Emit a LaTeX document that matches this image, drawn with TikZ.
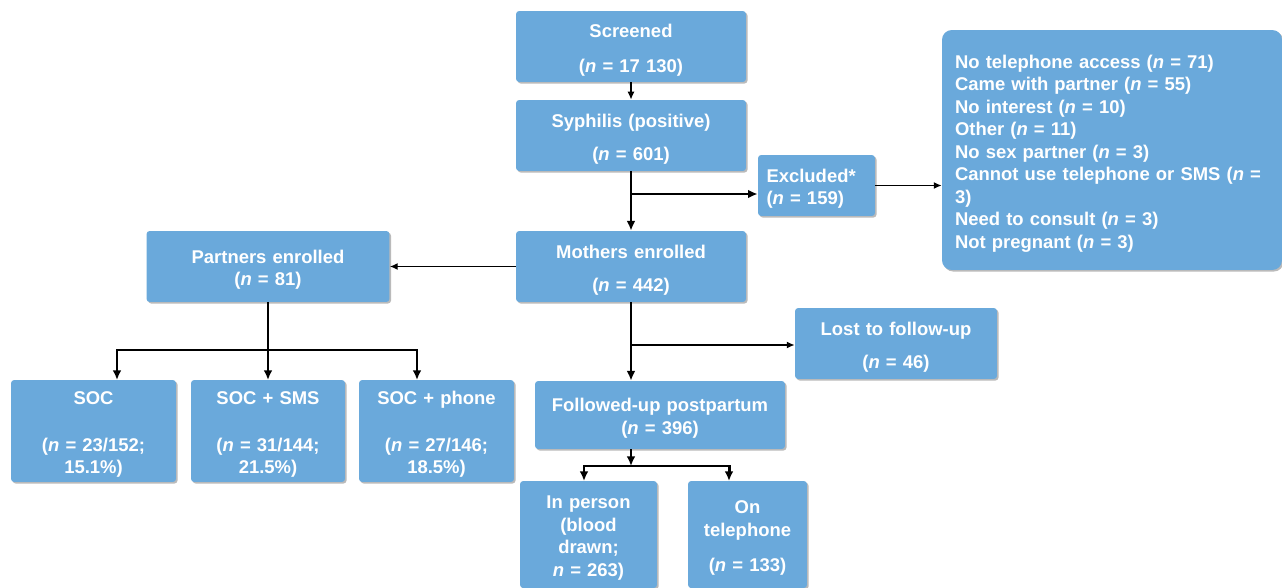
\documentclass[tikz,border=0pt]{standalone}
\usepackage{fontspec}
\setmainfont{Liberation Sans}
\usetikzlibrary{shadows,arrows.meta}
\definecolor{boxblue}{RGB}{106,169,219}
\newcommand{\nn}{\textit{n}}

\begin{document}
\begin{tikzpicture}[x=0.02cm,y=-0.02cm,>={Latex[length=4.5pt,width=4pt]},
	every node/.style={font=\fontsize{10.5}{12.8}\selectfont\bfseries,text=white},
	flowbox/.style={fill=boxblue,rounded corners=1.8pt,align=center,inner sep=2pt,
		text height=11.5pt,
		drop shadow={shadow xshift=0.9pt,shadow yshift=-0.9pt,fill=black!45,opacity=0.6}},
	thinarrow/.style={->,line width=0.8pt},
	thickline/.style={line width=1.7pt},
	thickarrow/.style={-{Latex[length=5.5pt,width=5pt]},line width=1.7pt}]
	
	\useasboundingbox (0,0) rectangle (1282,588);
	
	% mothers column
	\node[flowbox,text width=4.4cm,minimum width=4.6cm,minimum height=1.42cm](screened) at (631,46.5) {Screened\\[7pt](\nn{} = 17 130)};
	\node[flowbox,text width=4.4cm,minimum width=4.6cm,minimum height=1.42cm](syphilis) at (631,135.5) {Syphilis (positive)\\[5.9pt](\nn{} = 601)};
	\node[flowbox,text width=4.4cm,minimum width=4.6cm,minimum height=1.42cm](mothers) at (631,266.5) {Mothers enrolled\\[5.9pt](\nn{} = 442)};
	\node[flowbox,text width=4.8cm,minimum width=5cm,minimum height=1.36cm](followed) at (660,415) {Followed-up postpartum\\(\nn{} = 396)};
	\node[flowbox,text width=2.54cm,minimum width=2.74cm,minimum height=2.14cm](person) at (588.5,534.5) {In person\\(blood\\drawn;\\\nn{} = 263)};
	\node[flowbox,text width=2.18cm,minimum width=2.38cm,minimum height=2.14cm](phonecall) at (747.5,534.5) {On\\telephone\\[7.5pt](\nn{} = 133)};
	
	% exclusions
	\node[flowbox,align=left,text width=2cm,inner xsep=0.17cm,minimum height=1.22cm](excluded) at (816.5,185.5) {Excluded*\\(\nn{} = 159)};
	\node[flowbox,align=left,text width=6.28cm,inner xsep=0.26cm,minimum height=4.8cm,rounded corners=5.5pt](reasons) at (1112,150)
	{No telephone access (\nn{} = 71)\\
		Came with partner (\nn{} = 55)\\
		No interest (\nn{} = 10)\\
		Other (\nn{} = 11)\\
		No sex partner (\nn{} = 3)\\
		Cannot use telephone or SMS (\nn{} =\\
		3)\\
		Need to consult (\nn{} = 3)\\
		Not pregnant (\nn{} = 3)};
	\node[flowbox,text width=3.84cm,minimum width=4.04cm,minimum height=1.42cm](lost) at (896,343.5) {Lost to follow-up\\[5.9pt](\nn{} = 46)};
	
	% partners
	\node[flowbox,text width=4.66cm,minimum width=4.86cm,minimum height=1.42cm](partners) at (268,266.5) {Partners enrolled\\(\nn{} = 81)};
	\node[flowbox,text width=3.1cm,minimum width=3.3cm,minimum height=2.04cm](soc) at (93.5,431) {SOC\\[13.8pt](\nn{} = 23/152;\\15.1\%)};
	\node[flowbox,text width=2.88cm,minimum width=3.08cm,minimum height=2.04cm](socsms) at (268,431) {SOC + SMS\\[13.8pt](\nn{} = 31/144;\\21.5\%)};
	\node[flowbox,text width=2.9cm,minimum width=3.1cm,minimum height=2.04cm](socphone) at (436.5,431) {SOC + phone\\[13.8pt](\nn{} = 27/146;\\18.5\%)};
	
	\coordinate (exsplit) at (631,194);
	\coordinate (lostsplit) at (631,345);
	\coordinate (armsplit) at (268,350);
	\coordinate (socin) at (117,380);
	\coordinate (smsin) at (268,380);
	\coordinate (phonein) at (417,380);
	\coordinate (fusplit) at (631,466);
	\coordinate (personin) at (584,481);
	\coordinate (phonecallin) at (729,481);
	
	\draw[thinarrow] (screened) -- (syphilis);
	\draw[thickarrow] (syphilis) -- (mothers);
	\draw[thickarrow] (exsplit) -- (exsplit -| excluded.west);
	\draw[thinarrow] (excluded.east) -- (excluded.east -| reasons.west);
	\draw[thinarrow] (mothers) -- (partners);
	\draw[thickarrow] (mothers.south) -- (mothers.south |- followed.north);
	\draw[thinarrow] (lostsplit) -- (lostsplit -| lost.west);
	
	\draw[thickline] (partners.south) -- (armsplit);
	\draw[thickarrow] (armsplit) -| (socin);
	\draw[thickarrow] (armsplit) -- (smsin);
	\draw[thickarrow] (armsplit) -| (phonein);
	
	\draw[thickarrow] (followed.south -| fusplit) -- (fusplit);
	\draw[thickarrow] (fusplit) -| (personin);
	\draw[thickarrow] (fusplit) -| (phonecallin);
	
\end{tikzpicture}
\end{document}
